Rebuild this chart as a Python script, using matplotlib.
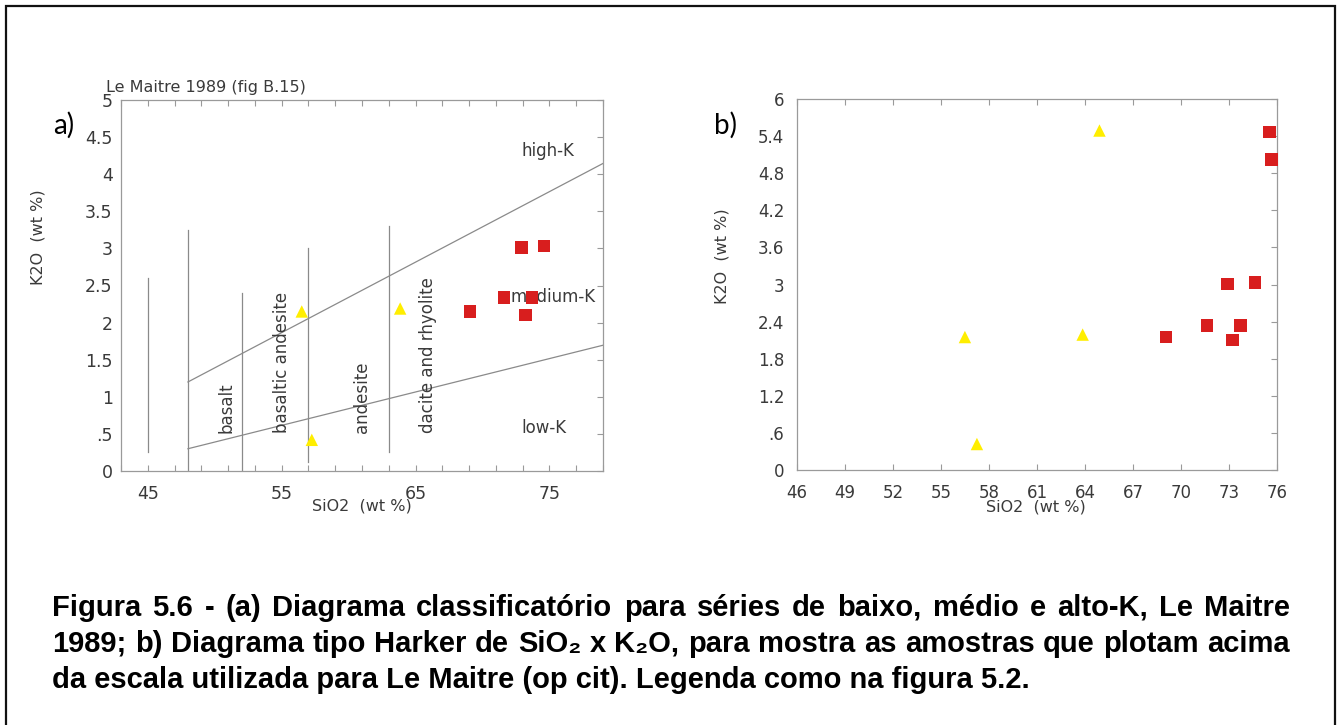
import matplotlib
matplotlib.use('Agg')
import matplotlib.pyplot as plt
import numpy as np
from matplotlib.ticker import MultipleLocator
from matplotlib.patches import Rectangle

W, H, DPI = 1341, 725, 100

# ---------------- data ----------------
sio2_tri = [56.5, 57.25, 63.85, 64.9]
k2o_tri = [2.15, 0.42, 2.19, 5.49]
sio2_sq = [69.05, 71.6, 72.9, 73.2, 73.7, 74.6, 75.5, 75.65]
k2o_sq = [2.15, 2.34, 3.01, 2.10, 2.34, 3.03, 5.47, 5.02]

# Le Maitre (1989) field divisions
div_x = [45, 48, 52, 57, 63]
div_ybot = [0.25, 0.0, 0.0, 0.12, 0.25]
div_ytop = [2.6, 3.25, 2.4, 3.0, 3.3]
lowmed_x = [48, 79]
lowmed_y = [0.3, 1.695]
medhigh_x = [48, 79]
medhigh_y = [1.2, 4.145]

rock_names = ['basalt', 'basaltic andesite', 'andesite', 'dacite and rhyolite']
rock_x = [50.9, 55.05, 61.0, 65.9]
rock_y0 = 0.51
series_names = ['high-K', 'medium-K', 'low-K']
series_x = [74.9, 75.3, 74.6]
series_y = [4.31, 2.34, 0.58]

a_xticks = [45, 55, 65, 75]
a_yticks = [0, 0.5, 1, 1.5, 2, 2.5, 3, 3.5, 4, 4.5, 5]
a_yticklabels = ['0', '.5', '1', '1.5', '2', '2.5', '3', '3.5', '4', '4.5', '5']
b_xticks = [46, 49, 52, 55, 58, 61, 64, 67, 70, 73, 76]
b_yticks = [0, 0.6, 1.2, 1.8, 2.4, 3.0, 3.6, 4.2, 4.8, 5.4, 6.0]
b_yticklabels = ['0', '.6', '1.2', '1.8', '2.4', '3', '3.6', '4.2', '4.8', '5.4', '6']

caption_lines = [
    "Figura 5.6 - (a) Diagrama classificatório para séries de baixo, médio e alto-K, Le Maitre",
    "1989; b) Diagrama tipo Harker de SiO\u2082 x K\u2082O, para mostra as amostras que plotam acima",
    "da escala utilizada para Le Maitre (op cit). Legenda como na figura 5.2.",
]

# ---------------- style ----------------
plt.rcParams['font.family'] = ['DejaVu Sans']
RED = '#D81E1E'
YEL = '#FFEE00'
TXT = '#3a3a3a'
AXC = '#9a9a9a'
LNC = '#8a8a8a'


def fx(px):
    return px / W


def fy(py):
    return 1 - py / H


fig = plt.figure(figsize=(W / DPI, H / DPI), dpi=DPI)
fig.patch.set_facecolor('white')

# ---------------- panel a ----------------
axA = fig.add_axes([fx(121), fy(471), (603 - 121) / W, (471 - 100) / H])
axA.set_xlim(43, 79)
axA.set_ylim(0, 5)
for xv, y0, y1 in zip(div_x, div_ybot, div_ytop):
    axA.plot([xv, xv], [y0, y1], color=LNC, lw=0.9, zorder=1)
axA.plot(lowmed_x, lowmed_y, color=LNC, lw=0.9, zorder=1)
axA.plot(medhigh_x, medhigh_y, color=LNC, lw=0.9, zorder=1)
for name, xv in zip(rock_names, rock_x):
    axA.text(xv, rock_y0, name, rotation=90, ha='center', va='bottom',
             fontsize=12, color=TXT, zorder=2)
for name, xv, yv in zip(series_names, series_x, series_y):
    axA.text(xv, yv, name, ha='center', va='center', fontsize=12,
             color=TXT, zorder=2)
ta = [(x, y) for x, y in zip(sio2_tri, k2o_tri) if y <= 5]
sa = [(x, y) for x, y in zip(sio2_sq, k2o_sq) if y <= 5]
axA.scatter([p[0] for p in ta], [p[1] for p in ta], marker='^', s=80,
            color=YEL, edgecolors='none', zorder=3)
axA.scatter([p[0] for p in sa], [p[1] for p in sa], marker='s', s=80,
            color=RED, edgecolors='none', zorder=3)
axA.set_xticks(a_xticks)
axA.xaxis.set_minor_locator(MultipleLocator(2, offset=1))
axA.set_yticks(a_yticks)
axA.set_yticklabels(a_yticklabels)
axA.tick_params(axis='x', which='both', direction='in', top=True, bottom=True,
                length=4, width=0.8, color=AXC, labelsize=12.5,
                labelcolor=TXT, pad=10)
axA.tick_params(axis='y', which='both', direction='in', left=False, right=True,
                length=4, width=0.8, color=AXC, labelsize=12.5,
                labelcolor=TXT, pad=6)
for sp in axA.spines.values():
    sp.set_color(AXC)
    sp.set_linewidth(0.9)

fig.text(fx(106), fy(92), 'Le Maitre 1989 (fig B.15)', ha='left',
         va='baseline', fontsize=11.5, color=TXT)
fig.text(fx(38), fy(237), 'K2O  (wt %)', rotation=90, ha='center',
         va='center', fontsize=11.5, color=TXT)
fig.text(fx(362), fy(506), 'SiO2  (wt %)', ha='center', va='center',
         fontsize=11.5, color=TXT)
fig.text(fx(64), fy(125), 'a)', ha='center', va='center', fontsize=20,
         family=['Lato', 'DejaVu Sans'], color='black')

# ---------------- panel b ----------------
axB = fig.add_axes([fx(796.7), fy(470), (1277.3 - 796.7) / W, (470 - 99) / H])
axB.set_xlim(46, 76)
axB.set_ylim(0, 6)
axB.scatter(sio2_tri, k2o_tri, marker='^', s=80, color=YEL,
            edgecolors='none', zorder=3, clip_on=False)
axB.scatter(sio2_sq, k2o_sq, marker='s', s=80, color=RED,
            edgecolors='none', zorder=3, clip_on=False)
axB.set_xticks(b_xticks)
axB.set_yticks(b_yticks)
axB.set_yticklabels(b_yticklabels)
axB.tick_params(axis='x', which='both', direction='in', top=True, bottom=True,
                length=4, width=0.8, color=AXC, labelsize=12,
                labelcolor=TXT, pad=10)
axB.tick_params(axis='y', which='both', direction='in', left=False, right=True,
                length=4, width=0.8, color=AXC, labelsize=12,
                labelcolor=TXT, pad=9)
for sp in axB.spines.values():
    sp.set_color(AXC)
    sp.set_linewidth(0.9)

fig.text(fx(722), fy(256), 'K2O  (wt %)', rotation=90, ha='center',
         va='center', fontsize=11.5, color=TXT)
fig.text(fx(1036), fy(507), 'SiO2  (wt %)', ha='center', va='center',
         fontsize=11.5, color=TXT)
fig.text(fx(726), fy(125), 'b)', ha='center', va='center', fontsize=20,
         family=['Lato', 'DejaVu Sans'], color='black')

# ---------------- border ----------------
fig.patches.append(Rectangle((fx(6), -0.02), fx(1335) - fx(6), fy(6) + 0.02,
                             transform=fig.transFigure, fill=False,
                             edgecolor='#111111', lw=1.6))

# ---------------- caption (justified) ----------------
cap_fam = ['Liberation Sans', 'DejaVu Sans']
cap_kw = dict(fontsize=21, fontweight='bold', family=cap_fam, color='black',
              va='baseline', ha='left')
baselines = [616, 652, 688]
x_left, x_right = 52, 1290

fig.canvas.draw()
renderer = fig.canvas.get_renderer()
for i, (line, by) in enumerate(zip(caption_lines, baselines)):
    if i < 2:
        words = line.split(' ')
        texts = [fig.text(0, fy(by), w, **cap_kw) for w in words]
        widths = [t.get_window_extent(renderer).width for t in texts]
        gap = (x_right - x_left - sum(widths)) / (len(words) - 1)
        xc = x_left
        for t, wd in zip(texts, widths):
            t.set_x(fx(xc))
            xc += wd + gap
    else:
        fig.text(fx(x_left), fy(by), line, **cap_kw)

fig.savefig('out.png', dpi=DPI, facecolor='white')
